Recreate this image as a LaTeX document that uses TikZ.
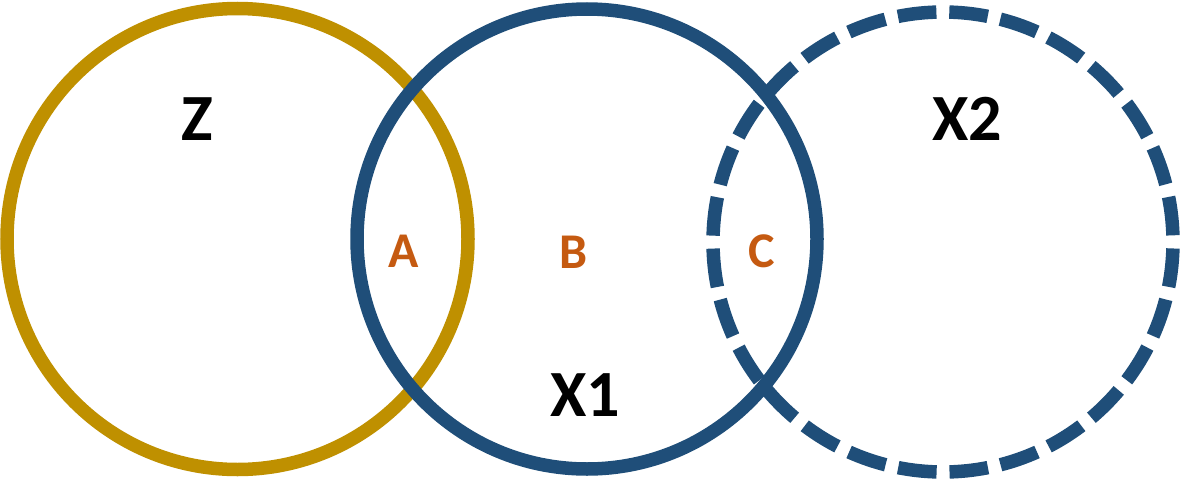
\documentclass[tikz,border=0pt]{standalone}
\usepackage{fontspec}
\setmainfont{Carlito}
\definecolor{goldc}{HTML}{BF9000}
\definecolor{bluec}{HTML}{1F4E79}
\definecolor{orangec}{HTML}{C55A11}
\begin{document}
\begin{tikzpicture}[x=1pt,y=-1pt,
  ring/.style={line width=13.5pt},
  bigl/.style={inner sep=0pt,anchor=base,font=\fontsize{66}{66}\selectfont\bfseries,text=black},
  smalll/.style={inner sep=0pt,anchor=base,font=\fontsize{50}{50}\selectfont\bfseries,text=orangec}]
\useasboundingbox (0,0) rectangle (1180,479);
\coordinate (cz) at (237.5,239);
\coordinate (cx1) at (587,239);
\coordinate (cx2) at (943,242);
\draw[ring,goldc] (cz) circle (230.5);
\draw[ring,bluec,dash pattern=on 38.7pt off 12.91pt,dash phase=45.15pt] (cx2) circle (230);
\draw[ring,bluec] (cx1) circle (230);
\node[bigl] (z) at (197,140) {Z};
\node[bigl] (x2) at (967,140) {X2};
\node[bigl] (x1) at (585,416) {X1};
\node[smalll] (a) at (404,267) {A};
\node[smalll] (b) at (574,268.5) {B};
\node[smalll] (c) at (762,267.5) {C};
\end{tikzpicture}
\end{document}
